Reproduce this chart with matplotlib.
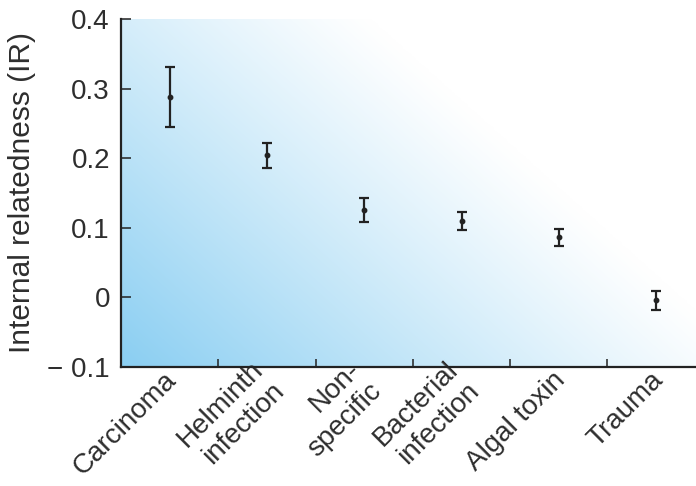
import numpy as np
import matplotlib
matplotlib.use("Agg")
import matplotlib.pyplot as plt
import matplotlib.transforms as mtransforms
from matplotlib.colors import to_rgb

plt.rcParams['font.family'] = ['Liberation Sans', 'DejaVu Sans']

# internal relatedness per cause of death, with upper / lower error limits
causes = ["Carcinoma", "Helminth\ninfection", "Non-\nspecific",
          "Bacterial\ninfection", "Algal toxin", "Trauma"]
ir_mean = [0.288, 0.205, 0.125, 0.110, 0.087, -0.004]
ir_upper = [0.331, 0.222, 0.142, 0.122, 0.098, 0.009]
ir_lower = [0.245, 0.186, 0.108, 0.096, 0.073, -0.018]

yticks = [-0.1, 0, 0.1, 0.2, 0.3, 0.4]
yticklabels = ["\u2212 0.1", "0", "0.1", "0.2", "0.3", "0.4"]

ink = "#222222"
txt = "#2e2e2e"

fig = plt.figure(figsize=(6.96, 4.86), dpi=100)
ax = fig.add_axes([0.174, 0.2455, 0.826, 0.7155])

x = np.arange(len(causes))
xlim = (-0.5, 5.41)
ylim = (-0.1, 0.4)

# diagonal blue-to-white wash behind the points
u = np.linspace(0, 1, 400)
v = np.linspace(0, 1, 300)
U, V = np.meshgrid(u, v)
w = np.clip(1.02 - (0.92 * U + 0.62 * V), 0, 1) ** 1.1
blue = np.array(to_rgb("#8ccff2"))
img = 1 - w[..., None] * (1 - blue)
ax.imshow(img, extent=[xlim[0], xlim[1], ylim[0], ylim[1]], origin="lower",
          aspect="auto", zorder=0, interpolation="bilinear")

yerr = [np.array(ir_mean) - np.array(ir_lower), np.array(ir_upper) - np.array(ir_mean)]
ax.errorbar(x, ir_mean, yerr=yerr, fmt="o", color=ink, ms=3.2, elinewidth=1.6,
            capsize=3.6, capthick=1.6, zorder=3)

ax.set_xlim(*xlim)
ax.set_ylim(*ylim)

for side in ("top", "right"):
    ax.spines[side].set_visible(False)
for side in ("left", "bottom"):
    ax.spines[side].set_linewidth(1.6)
    ax.spines[side].set_color(ink)

ax.set_yticks(yticks)
ax.set_yticklabels(yticklabels)
ax.tick_params(axis="y", direction="in", length=7, width=1.1, color=ink,
               labelsize=20, pad=8, labelcolor=txt)

ax.set_xticks(x)
ax.set_xticklabels(causes, rotation=45, ha="right", va="center",
                   rotation_mode="anchor")
ax.set_xticks(x[:-1] + 0.5, minor=True)
ax.tick_params(axis="x", which="major", length=0, labelsize=20, pad=7,
               labelcolor=txt)
ax.tick_params(axis="x", which="minor", direction="in", length=6, width=1.1,
               color=ink)
shift = mtransforms.ScaledTranslation(2 / 72, 0, fig.dpi_scale_trans)
for lab in ax.get_xticklabels():
    lab.set_transform(lab.get_transform() + shift)
    lab.set_linespacing(1.2)

ax.set_ylabel("Internal relatedness (IR)", fontsize=21.5, color=txt,
              labelpad=8)

fig.savefig("out.png", dpi=100)
